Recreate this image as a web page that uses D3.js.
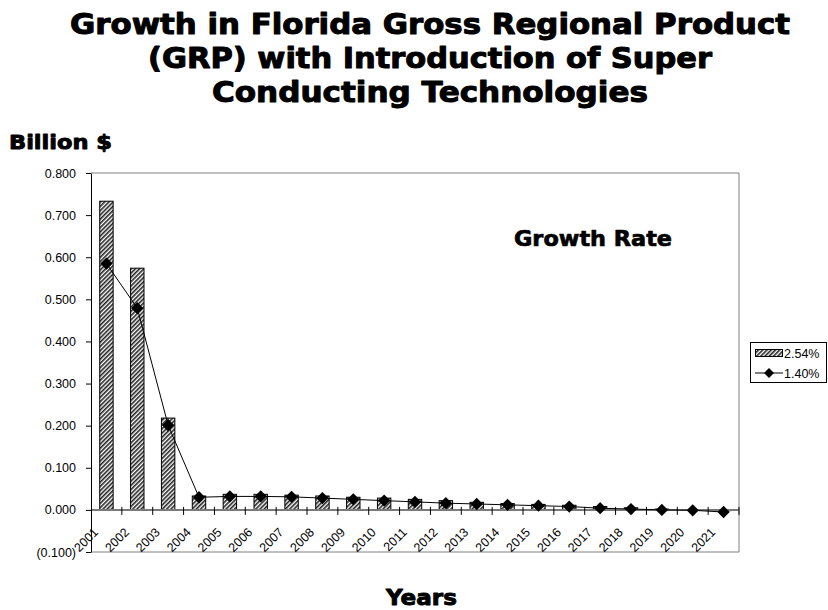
<!DOCTYPE html>
<html>
<head>
<meta charset="utf-8">
<script src="https://cdn.jsdelivr.net/npm/d3@7"></script>
<style>
  html, body { margin: 0; padding: 0; background: #fff; }
  svg { display: block; }
  .heavy { font-family: "DejaVu Sans", sans-serif; font-weight: bold; fill: #000; stroke: #000; stroke-width: 1px; stroke-linejoin: round; }
  .tick text, .lbl { font-family: "Liberation Sans", Arial, sans-serif; font-size: 12.5px; fill: #000; }
</style>
</head>
<body>
<script>
// Florida GRP growth, billions of dollars, by year
const years = ["2001","2002","2003","2004","2005","2006","2007","2008","2009","2010","2011",
               "2012","2013","2014","2015","2016","2017","2018","2019","2020","2021"];
const growth254 = [0.733,0.574,0.218,0.033,0.037,0.037,0.035,0.033,0.030,0.028,0.025,
                   0.022,0.018,0.015,0.013,0.011,0.008,0.005,0.002,0.000,-0.002];
const growth140 = [0.585,0.479,0.201,0.030,0.032,0.032,0.031,0.028,0.025,0.022,0.019,
                   0.016,0.014,0.012,0.010,0.008,0.004,0.002,0.000,-0.001,-0.005];
const seriesNames = ["2.54%", "1.40%"];
const yTicks = [-0.1,0,0.1,0.2,0.3,0.4,0.5,0.6,0.7,0.8];
const titleLines = ["Growth in Florida Gross Regional Product",
                    "(GRP) with Introduction of Super",
                    "Conducting Technologies"];

const W = 828, H = 610;
const plot = { left: 91, right: 739, top: 173, bottom: 552 };

const svg = d3.select("body").append("svg").attr("width", W).attr("height", H);

// hatch fill for the bars
const defs = svg.append("defs");
const pat = defs.append("pattern").attr("id", "hatch")
  .attr("patternUnits", "userSpaceOnUse").attr("width", 3).attr("height", 3)
  .attr("patternTransform", "rotate(45)");
pat.append("rect").attr("width", 3).attr("height", 3).attr("fill", "#fff");
pat.append("rect").attr("width", 1.6).attr("height", 3).attr("fill", "#222");

const x = d3.scaleBand().domain(years).range([plot.left, plot.right]).padding(0);
const y = d3.scaleLinear().domain([-0.1, 0.8]).range([plot.bottom, plot.top]);
const bw = x.bandwidth() / 2.3;

// title
const titleWidths = [720, 564, 436];
svg.selectAll(".title").data(titleLines).join("text")
  .attr("class", "heavy title")
  .attr("x", 430).attr("y", (d, i) => 34 + i * 34)
  .attr("text-anchor", "middle")
  .attr("font-size", 28)
  .attr("textLength", (d, i) => titleWidths[i])
  .attr("lengthAdjust", "spacingAndGlyphs")
  .text(d => d);

// axis titles
svg.append("text").attr("class", "heavy").attr("x", 9).attr("y", 149)
  .attr("font-size", 20).attr("textLength", 103).attr("lengthAdjust", "spacingAndGlyphs")
  .style("stroke-width", "0.9px")
  .text("Billion $");
svg.append("text").attr("class", "heavy").attr("x", 386).attr("y", 605)
  .attr("font-size", 22).attr("textLength", 71).attr("lengthAdjust", "spacingAndGlyphs")
  .style("stroke-width", "0.9px")
  .text("Years");
svg.append("text").attr("class", "heavy").attr("x", 514).attr("y", 246)
  .attr("font-size", 22).attr("textLength", 158).attr("lengthAdjust", "spacingAndGlyphs")
  .style("stroke-width", "0.7px")
  .text("Growth Rate");

// plot frame (top, right, bottom)
svg.append("path")
  .attr("d", `M${plot.left},${plot.top}H${plot.right}V${plot.bottom}H${plot.left}`)
  .attr("fill", "none").attr("stroke", "#808080").attr("stroke-width", 1);

// bars
svg.selectAll(".bar").data(years).join("rect")
  .attr("class", "bar")
  .attr("x", d => x(d) + (x.bandwidth() - bw) / 2)
  .attr("width", bw)
  .attr("y", (d, i) => y(Math.max(0, growth254[i])))
  .attr("height", (d, i) => Math.abs(y(growth254[i]) - y(0)))
  .attr("fill", "url(#hatch)").attr("stroke", "#000").attr("stroke-width", 1);

// zero line with crossing category ticks
svg.append("line").attr("x1", plot.left).attr("x2", plot.right)
  .attr("y1", y(0)).attr("y2", y(0))
  .attr("stroke", "#7a7a7a").attr("stroke-width", 2);
svg.selectAll(".ctick").data(years.slice(1).concat(["end"])).join("line")
  .attr("class", "ctick")
  .attr("x1", (d, i) => plot.left + (i + 1) * x.bandwidth())
  .attr("x2", (d, i) => plot.left + (i + 1) * x.bandwidth())
  .attr("y1", y(0) - 3).attr("y2", y(0) + 5)
  .attr("stroke", "#000").attr("stroke-width", 1);

// y axis
const fmt = v => v < 0 ? `(${d3.format(".3f")(-v)})` : d3.format(".3f")(v);
const yAxis = svg.append("g").attr("transform", `translate(${plot.left},0)`)
  .call(d3.axisLeft(y).tickValues(yTicks).tickFormat(fmt).tickSize(5).tickPadding(10).tickSizeOuter(0));
yAxis.attr("font-size", null).attr("font-family", null);
yAxis.select(".domain").attr("stroke", "#000");
yAxis.selectAll(".tick line").attr("stroke", "#000");

// rotated year labels
svg.selectAll(".xl").data(years).join("text")
  .attr("class", "lbl xl")
  .attr("text-anchor", "end")
  .attr("transform", d => `translate(${x(d) + 8},533) rotate(-45)`)
  .text(d => d);

// line series with diamond markers
const line = d3.line().x((d, i) => x(years[i]) + x.bandwidth() / 2).y(d => y(d));
svg.append("path").datum(growth140).attr("d", line)
  .attr("fill", "none").attr("stroke", "#000").attr("stroke-width", 1);
const diamond = d3.symbol().type(d3.symbolDiamond2).size(96);
svg.selectAll(".mk").data(growth140).join("path")
  .attr("class", "mk")
  .attr("transform", (d, i) => `translate(${x(years[i]) + x.bandwidth() / 2},${y(d)})`)
  .attr("d", diamond).attr("fill", "#000");

// legend
const lg = svg.append("g");
lg.append("rect").attr("x", 750.5).attr("y", 342.5).attr("width", 76).attr("height", 40)
  .attr("fill", "#fff").attr("stroke", "#000");
lg.append("rect").attr("x", 755.5).attr("y", 349.5).attr("width", 27).attr("height", 7)
  .attr("fill", "url(#hatch)").attr("stroke", "#000");
lg.append("text").attr("class", "lbl").attr("x", 784).attr("y", 358).text(seriesNames[0]);
lg.append("line").attr("x1", 755).attr("x2", 783).attr("y1", 373).attr("y2", 373)
  .attr("stroke", "#000");
lg.append("path").attr("transform", "translate(769,373)")
  .attr("d", d3.symbol().type(d3.symbolDiamond2).size(64)).attr("fill", "#000");
lg.append("text").attr("class", "lbl").attr("x", 784).attr("y", 378).text(seriesNames[1]);
</script>
</body>
</html>
